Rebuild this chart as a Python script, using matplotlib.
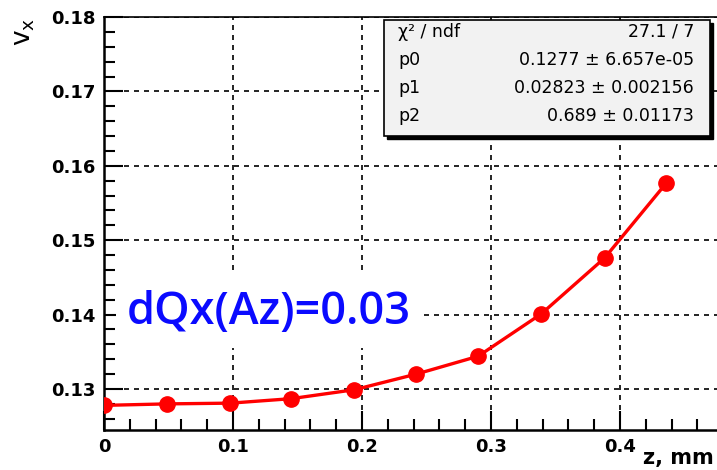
import matplotlib
matplotlib.use("Agg")
import matplotlib.pyplot as plt
from matplotlib.ticker import MultipleLocator, FuncFormatter
from matplotlib.patches import Rectangle

# data
z_mm = [0.0, 0.049, 0.098, 0.145, 0.194, 0.242, 0.290, 0.339, 0.388, 0.436]
vx = [0.1278, 0.1280, 0.1281, 0.1287, 0.1299, 0.1320, 0.1344, 0.1401, 0.1476, 0.1577]

stat_names = ["\u03c7\u00b2 / ndf", "p0", "p1", "p2"]
stat_values = ["27.1 / 7", "0.1277 \u00b1 6.657e-05",
               "0.02823 \u00b1 0.002156", "0.689 \u00b1 0.01173"]

W, H = 717, 470
fig = plt.figure(figsize=(W / 100, H / 100), dpi=100)
ax = fig.add_axes([104 / W, 1 - 430 / H, (W - 104) / W, (430 - 17) / H])

ax.plot(z_mm, vx, color="#ff0000", lw=2.4, marker="o", ms=11, zorder=3)

ax.set_xlim(0, (W - 104) / 1290)
ax.set_ylim(0.12449, 0.18)

# ---- ticks, ROOT style ----
ax.xaxis.set_major_locator(MultipleLocator(0.1))
ax.xaxis.set_minor_locator(MultipleLocator(0.02))
ax.yaxis.set_major_locator(MultipleLocator(0.01))
ax.yaxis.set_minor_locator(MultipleLocator(0.002))
ax.xaxis.set_major_formatter(FuncFormatter(lambda v, p: "0" if abs(v) < 1e-9 else f"{v:.1f}"))
ax.yaxis.set_major_formatter(FuncFormatter(lambda v, p: f"{v:.2f}"))
ax.tick_params(which="both", direction="in", top=False, right=False,
               labelsize=13, width=1.5, colors="black")
ax.tick_params(which="major", length=14, pad=6)
ax.tick_params(which="minor", length=8)
for lab in ax.get_xticklabels() + ax.get_yticklabels():
    lab.set_fontweight("bold")

ax.grid(True, which="major", color="black", ls=(0, (3, 3)), lw=1.2)
for s in ["left", "bottom"]:
    ax.spines[s].set_linewidth(1.8)
ax.spines["top"].set_linewidth(1.2)
ax.spines["right"].set_visible(False)

fig.text(24 / W, 1 - 32 / H, r"$\mathrm{v_x}$", rotation=90, fontsize=19,
         ha="center", va="center")
fig.text(714 / W, 1 - 458 / H, "z, mm", fontsize=15, fontweight="bold",
         ha="right", va="center")

# ---- stats box ----
bx0, by0, bx1, by1 = 384, 20, 710, 136
fig.patches.append(Rectangle(((bx0 + 3) / W, 1 - (by1 + 3) / H), (bx1 - bx0) / W,
                             (by1 - by0) / H, transform=fig.transFigure,
                             facecolor="black", edgecolor="black", zorder=5))
fig.patches.append(Rectangle((bx0 / W, 1 - by1 / H), (bx1 - bx0) / W,
                             (by1 - by0) / H, transform=fig.transFigure,
                             facecolor="#f2f2f2", edgecolor="black", lw=1.2, zorder=6))
for i, (n, v) in enumerate(zip(stat_names, stat_values)):
    yy = 1 - (32 + i * 28) / H
    fig.text((bx0 + 14) / W, yy, n, fontsize=12.5, ha="left", va="center", zorder=7)
    fig.text((bx1 - 16) / W, yy, v, fontsize=12.5, ha="right", va="center", zorder=7)

# ---- annotation ----
fig.patches.append(Rectangle((116 / W, 1 - 348 / H), 304 / W, 76 / H,
                             transform=fig.transFigure, facecolor="white",
                             edgecolor="none", zorder=4))
fig.text(127 / W, 1 - 312 / H, "dQx(Az)=0.03", fontsize=32.5, color="#0a0aff",
         fontfamily="Open Sans", fontweight="semibold", ha="left", va="center",
         zorder=5)

fig.savefig("out.png", dpi=100)
